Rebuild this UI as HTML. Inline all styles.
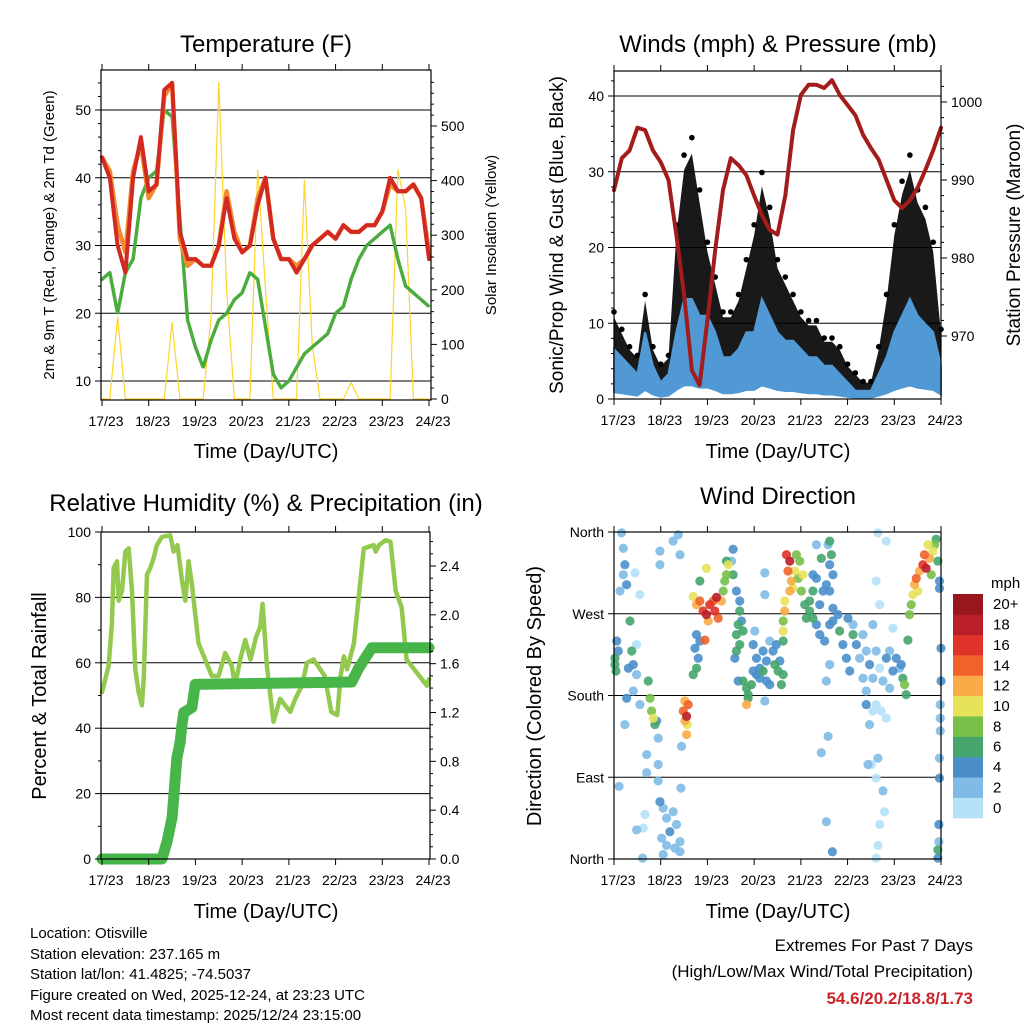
<!DOCTYPE html>
<html><head><meta charset="utf-8"><style>
html,body{margin:0;padding:0;background:#fff;}
svg{display:block;font-family:"Liberation Sans",sans-serif;}
</style></head><body>
<svg id="chart" width="1024" height="1024" viewBox="0 0 1024 1024" xmlns="http://www.w3.org/2000/svg">
<rect width="1024" height="1024" fill="#fff"/>
<text x="266" y="52" font-size="24" text-anchor="middle">Temperature (F)</text>
<text x="778" y="52" font-size="24" text-anchor="middle">Winds (mph) &amp; Pressure (mb)</text>
<text x="266" y="511" font-size="24" text-anchor="middle">Relative Humidity (%) &amp; Precipitation (in)</text>
<text x="778" y="504" font-size="24" text-anchor="middle">Wind Direction</text>
<text x="266" y="458" font-size="20" text-anchor="middle">Time (Day/UTC)</text>
<text x="778" y="458" font-size="20" text-anchor="middle">Time (Day/UTC)</text>
<text x="266" y="918" font-size="20" text-anchor="middle">Time (Day/UTC)</text>
<text x="778" y="918" font-size="20" text-anchor="middle">Time (Day/UTC)</text>
<text transform="translate(54,235) rotate(-90)" font-size="15" text-anchor="middle">2m &amp; 9m T (Red, Orange) &amp; 2m Td (Green)</text>
<text transform="translate(496,235) rotate(-90)" font-size="15" text-anchor="middle">Solar Insolation (Yellow)</text>
<text transform="translate(563,235) rotate(-90)" font-size="19" text-anchor="middle">Sonic/Prop Wind &amp; Gust (Blue, Black)</text>
<text transform="translate(1020,235) rotate(-90)" font-size="19" text-anchor="middle">Station Pressure (Maroon)</text>
<text transform="translate(46,696) rotate(-90)" font-size="20" text-anchor="middle">Percent &amp; Total Rainfall</text>
<text transform="translate(541,696) rotate(-90)" font-size="20" text-anchor="middle">Direction (Colored By Speed)</text>
<g font-size="15">
<text x="30" y="938">Location: Otisville</text>
<text x="30" y="959">Station elevation: 237.165 m</text>
<text x="30" y="979">Station lat/lon: 41.4825; -74.5037</text>
<text x="30" y="1000">Figure created on Wed, 2025-12-24, at 23:23 UTC</text>
<text x="30" y="1020">Most recent data timestamp: 2025/12/24 23:15:00</text>
</g>
<text x="973" y="951" font-size="17" text-anchor="end">Extremes For Past 7 Days</text>
<text x="973" y="977" font-size="17" text-anchor="end">(High/Low/Max Wind/Total Precipitation)</text>
<text x="973" y="1004" font-size="17" font-weight="bold" fill="#c8262d" text-anchor="end">54.6/20.2/18.8/1.73</text>
<text x="991" y="588" font-size="15">mph</text>
</svg>
<script>
// ---------- data ----------
const dayLabels = ["17/23","18/23","19/23","20/23","21/23","22/23","23/23","24/23"];
const tempHours = [0,4,8,12,16,20,24,28,32,36,40,44,48,52,56,60,64,68,72,76,80,84,88,92,96,100,104,108,112,116,120,124,128,132,136,140,144,148,152,156,160,164,168];
const temp2m = [43,40,30,26,40,46,38,39,53,54,32,28,28,27,27,30,37,31,29,30,36,40,31,28,28,26,28,30,31,32,31,33,32,32,33,33,35,40,38,38,39,37,28];
const temp9m = [43,41,33,29,41,45,37,39,52,54,31,27,28,27,27,30,38,32,29,30,37,40,31,28,28,27,28,30,31,32,31,33,32,32,33,33,35,39,38,38,39,37,29];
const dewpoint = [25,26,20,26,28,37,40,41,50,49,34,19,15,12,16,19,20,22,23,26,25,18,11,9,10,12,14,15,16,17,20,21,25,28,30,31,32,33,28,24,23,22,21];
const solar = [0,0,150,0,0,0,0,0,0,140,0,0,0,0,150,580,200,0,0,0,420,200,0,0,0,0,400,100,0,0,0,0,30,0,0,0,0,0,420,350,0,0,0];
const tempTicks = [10,20,30,40,50];
const solarTicks = [0,100,200,300,400,500];

const windHours = tempHours;
const windSpeed = [6,5,4,3,8,4,2,3,8,12,12,10,10,8,5,5,6,8,8,12,10,8,7,7,6,5,5,4,4,3,2,1,1,1,3,5,8,10,12,10,9,8,4];
const windGust = [10,8,6,5,12,6,4,5,20,28,30,24,18,14,10,10,12,16,20,26,22,16,14,12,10,9,9,7,7,6,4,3,2,2,6,12,20,25,28,24,22,18,8];
const pressure = [988.7,992.8,993.8,996.7,996.4,993.8,992.3,990,983,975.3,965.6,963.7,972,981,988.7,992.8,991.9,990.6,988,985.5,983.6,983,988,996.4,1000.9,1002.2,1002.2,1001.8,1002.8,1000.9,999.6,998.3,995.8,994.1,992.6,990,987.4,986.4,987.4,989,991.3,993.8,996.7];
const windTicks = [0,10,20,30,40];
const pressureTicks = [970,980,990,1000];

const rhHours = [0,3.4,5.1,6,7.7,8.6,10.3,12,13.7,15.4,17.1,18.8,20.5,21.4,23.1,24.8,26.5,28.2,30.8,35.1,36.8,38.8,41.1,42.8,44.5,46.2,49.6,56.4,59.9,63.3,66.7,68.4,71,73.6,76.3,79.2,81.3,82.5,84.7,88.1,91.5,96.7,99.3,102.7,105.3,108.7,114.4,117.8,120.9,122.6,124.3,125.9,129.4,134.5,139.6,140.6,142.3,145.7,148.2,150.9,153.9,156.5,166.9,168];
const rhValues = [51,59,72,89,91,79,82,94,95,82,58,51,47,55,87,89,92,96,98.5,99,94,96,85,79,91,84,66,56,56,63,59,53,61,67,61,68,71,78,59,42,49,45,49,53,60,61,56,45,44,56,62,58,66,95,96,94,96,97.5,97,82,77,61,53,55];
const precipHours = [0,30.8,33.4,36,38.5,40.2,41.1,42,46.2,47.9,128.3,131.8,138.6,168];
const precipValues = [0,0,0.14,0.34,0.83,0.96,1.1,1.2,1.24,1.43,1.45,1.56,1.73,1.73];
const rhTicks = [0,20,40,60,80,100];
const precipTicks = [0,0.4,0.8,1.2,1.6,2.0,2.4];

const dirLabels = ["North","East","South","West","North"];
const dirTicks = [0,90,180,270,360];
const speedBins = ["0","2","4","6","8","10","12","14","16","18","20+"];
const speedColors = ["#b5e1f7","#7fbbe5","#4a8fca","#45a56c","#78c04a","#e6e25a","#f8ab47","#f0622a","#df3228","#bb1e28","#98161c"];
// [hour, direction deg, speed mph]
const dirObs = [
[3.9,359,2],[4.8,342,3],[5.6,324,4],[4.8,313,3],[3.1,295,2],[6.5,302,4],[1.4,240,4],[0.5,214,6],[0.5,221,6],[1,207,6],[2.2,229,4],[8.2,262,6],[9.1,229,6],[9.9,214,4],[7.4,210,4],[11.6,203,2],[9.9,185,3],[6.5,177,4],[5.6,148,2],[13.3,170,2],[11.6,236,1],[13.3,291,1],[10.8,315,1],
[17.6,196,7],[18.5,177,8],[19.3,163,8],[20.2,155,10],[21,148,6],[21.9,152,5],[22.7,133,3],
[16.8,115,3],[16.8,95,3],[22.7,104,3],[22.7,86,3],[23.6,63,4],[25.3,56,3],[27,45,3],[28.7,30,4],[30.4,52,3],[32.1,38,3],[27,15,3],[31.3,12,3],[24.5,23,2],[33.9,19,2],[15.9,49,1],[15,34,1],[33.9,8,3],[25.3,5,3],
[23.6,339,2],[30.4,350,3],[33,357,2],[33.9,335,2],[23.6,324,3],
[36.4,174,13],[38.1,170,15],[35.6,163,14],[37.3,157,18],[36.4,152,12],[37.6,148,10],[37.3,137,12],[34.7,124,2],[34.4,78,3],
[40.7,289,10],[42.4,280,12],[44.1,284,14],[45.8,273,16],[47.5,269,18],[49.2,280,17],[51,284,15],[52.7,288,19],[51.8,273,16],[53.5,265,15],[55.2,284,12],[56.1,295,9],[56.9,306,8],[57.8,313,9],[58.7,324,10],[57.8,328,7],[44.1,306,7],[47.5,320,10],[48.4,262,13],[46.7,241,15],[42.4,247,5],[41.6,232,4],[43.3,221,5],[42.4,210,6],[40.7,203,6],[44.1,240,4],
[61.2,341,4],[60.4,328,3],[61.2,313,6],[62.9,295,4],[64.6,284,4],[64.6,273,6],[63.8,258,7],[62.9,247,7],[64.6,236,6],[62.9,229,6],[62.1,221,4],[65.5,262,5],[66.3,251,7],[63.8,196,5],[66.3,196,7],[68.1,188,7],[68.9,181,7],[68.1,170,12],[68.9,177,6],
[71.5,236,4],[73.2,221,4],[74.9,210,5],[76.6,229,4],[78.3,218,4],[80,240,3],[81.7,229,5],[83.4,236,4],[85.2,218,4],[86.9,203,6],[86,192,7],[74.9,199,4],[76.6,207,6],[73.2,203,5],[78.3,196,4],[80,192,4],[71.5,207,5],[70.6,192,6],[82.6,214,6],[84.3,207,6],[86.9,240,7],[72.3,251,3],[77.5,291,2],[77.5,174,3],[77.5,315,2],
[88.6,335,16],[90.3,328,18],[89.4,317,14],[91.1,306,12],[92,298,11],[90.3,295,12],[87.7,284,11],[87.7,273,12],[86.9,251,10],[93.7,335,8],[95.4,328,9],[97.1,313,10],[96.3,295,8],[98,280,6],[92.9,317,10],[94.6,309,9],[86.9,262,8],
[100.5,273,6],[102.2,265,6],[104,258,5],[105.7,280,4],[107.4,295,4],[109.1,302,4],[110.8,295,4],[105.7,247,4],[108.2,240,4],[110.8,258,4],[112.5,276,5],[112.5,262,4],[115.1,269,5],[104,309,4],[110.8,324,4],[112.5,313,4],[110.8,350,6],[111.7,335,6],[110,346,2],[104,346,3],[110.8,214,2],[109.1,196,2],[102.2,295,6],[100.5,284,7],[98.8,265,6],[106.5,331,7],[102.2,313,4],
[115.9,251,6],[117.6,236,4],[119.4,221,4],[121.1,207,4],[122.8,247,6],[124.5,236,4],[126.2,221,3],[127.9,247,2],[129.6,229,2],[131.3,214,4],[133,199,2],[127.9,199,2],[129.6,185,2],[134.7,229,2],[136.5,210,1],[138.2,196,2],[139.9,221,4],[141.6,229,2],[133,258,3],[122.8,258,3],[120.2,265,4],
[129.6,170,4],[131.3,148,3],[133,163,1],[134.7,170,1],[137.3,163,1],[139.9,155,1],[135.6,111,2],[134.7,89,1],[138.2,75,3],[139,52,1],[136.5,38,1],[135.6,15,1],[134.7,1,1],[130.5,104,3],[132.2,104,1],[134.7,306,1],[136.5,280,1],[139.9,350,1],[135.6,359,1],[106.5,117,3],[109.1,41,3],[112.2,8,4],[110,135,3],[141.6,188,2],[143.3,207,4],[145,221,4],[146.7,210,3],[143.3,254,1],
[147.6,214,5],[148.4,199,7],[149.3,192,8],[150.1,181,7],[151,241,6],
[151.8,269,8],[152.7,280,9],[153.6,291,10],[154.4,302,12],[155.3,309,14],[157,317,13],[158.7,324,16],[160.4,320,18],[159.5,335,14],[162.1,331,12],[163.8,339,11],[164.7,346,9],[165.5,352,7],[166.4,328,6],[161.3,346,10],[156.1,295,10],[163,313,9],[167.2,306,4],[167.2,298,4],
[168,232,4],[168,196,4],[167.6,170,3],[167.6,155,3],[167.6,141,3],[167.2,89,4],[166.9,38,4],[166.9,19,3],[166.4,10,6],[166.4,1,4],[167.2,111,2],[2.6,80,3],[11.6,32,2],[14.7,1,2]
];

// ---------- helpers ----------
const NS = "http://www.w3.org/2000/svg";
const svg = document.getElementById('chart');
function mk(tag, attrs, parent) {
  const e = document.createElementNS(NS, tag);
  for (const k in attrs) e.setAttribute(k, attrs[k]);
  (parent || svg).appendChild(e);
  return e;
}
function lin(d0, d1, r0, r1) { return v => r0 + (v - d0) * (r1 - r0) / (d1 - d0); }

const P1 = {x0:101,x1:431,y0:70,y1:400};
const P2 = {x0:614,x1:941,y0:71,y1:399};
const P3 = {x0:101,x1:430,y0:532,y1:859};
const P4 = {x0:614,x1:941,y0:532,y1:859};

const x1s = lin(0,168,102,429);
const x2s = lin(0,168,614,941);
const yTemp = lin(10,50,381,110);
const ySolar = lin(0,500,399,126);
const yWind = lin(0,40,399,96);
const yPres = lin(970,1000,336,102);
const yRH = lin(0,100,859,532);
const yPre = lin(0,2.4,859,566);
const yDir = lin(0,360,859,532);

function grid(P, ys, ticks, name) {
  const g = mk('g', {});
  
  
  ticks.forEach(t => {
    const y = ys(t);
    if (y > P.y0 + 1 && y < P.y1 - 1) {
      const l = mk('line', {x1:P.x0,x2:P.x1,y1:y,y2:y,stroke:'#000','stroke-width':1}, g);
      
      
    }
  });
}
function frame(P, xs, name) {
  const r = mk('rect', {x:P.x0,y:P.y0,width:P.x1-P.x0,height:P.y1-P.y0,fill:'none',stroke:'#000','stroke-width':1.2});
  
  
  dayLabels.forEach((lab, i) => {
    const x = xs(i * 24);
    const tk = mk('line', {x1:x,x2:x,y1:P.y1,y2:P.y1+6,stroke:'#000'});
    
    
    const tk2 = mk('line', {x1:x,x2:x,y1:P.y0,y2:P.y0-6,stroke:'#000'});
    
    
    const t = mk('text', {x:x+4,y:P.y1+26,'font-size':14,'text-anchor':'middle'});
    t.textContent = lab;
    
    
  });
}
function yAxis(P, ys, ticks, labels, side, name, minor) {
  const g = mk('g', {'font-size':14});
  
  
  const xe = side === 'left' ? P.x0 : P.x1;
  const dir = side === 'left' ? -1 : 1;
  ticks.forEach((t, i) => {
    const y = ys(t);
    const l = mk('line', {x1:xe,x2:xe+dir*6,y1:y,y2:y,stroke:'#000'}, g);
    
    
    const tx = mk('text', {x:xe+dir*10,y:y+5,'text-anchor':side==='left'?'end':'start'}, g);
    tx.textContent = labels[i];
    
    
    if (minor) {
      const step = (ticks[1] - ticks[0]) / minor;
      for (let k = 1; k < minor; k++) {
        const ym = ys(t + k * step);
        if (ym > P.y0 && ym < P.y1) {
          const m = mk('line', {x1:xe,x2:xe+dir*3,y1:ym,y2:ym,stroke:'#000'}, g);
          
          
        }
      }
    }
  });
}
function path(xs, ys, X, Y, attrs, name) {
  let d = '';
  X.forEach((h, i) => { d += (i ? 'L' : 'M') + xs(h).toFixed(1) + ',' + ys(Y[i]).toFixed(1); });
  const p = mk('path', Object.assign({d:d,fill:'none','stroke-linejoin':'round','stroke-linecap':'round'}, attrs));
  
  
  return p;
}

// ---------- panel 1: temperature ----------
grid(P1, yTemp, tempTicks, 'temp-gridlines');
path(x1s, ySolar, tempHours, solar, {stroke:'#ffd42a','stroke-width':1.2}, 'solar-line');
path(x1s, yTemp, tempHours, dewpoint, {stroke:'#4aac3c','stroke-width':3.5,'stroke-dasharray':'2 1.5'}, 'dewpoint-line');
path(x1s, yTemp, tempHours, temp9m, {stroke:'#f28b30','stroke-width':4.5}, 'temp-9m-line');
path(x1s, yTemp, tempHours, temp2m, {stroke:'#d22a22','stroke-width':4}, 'temp-2m-line');
frame(P1, x1s, 'temp-plot-frame');
yAxis(P1, yTemp, tempTicks, tempTicks.map(String), 'left', 'temp-y-axis', 5);
yAxis(P1, ySolar, solarTicks, solarTicks.map(String), 'right', 'solar-y-axis', 5);

// ---------- panel 2: winds ----------
grid(P2, yWind, windTicks, 'wind-gridlines');
(function(){
  let up = '', lo = '';
  windHours.forEach((h, i) => { up += (i ? 'L' : 'M') + x2s(h).toFixed(1) + ',' + yWind(windGust[i] * 1.08).toFixed(1); });
  for (let i = windHours.length - 1; i >= 0; i--) lo += 'L' + x2s(windHours[i]).toFixed(1) + ',' + yWind(windSpeed[i] * 0.6).toFixed(1);
  const a = mk('path', {d:up + lo + 'Z', fill:'#000', opacity:0.9});
  
  
  windHours.forEach((h, i) => {
    const c = mk('circle', {cx:x2s(h), cy:yWind(windGust[i] * 1.15), r:2.8, fill:'#000'});
    
    
  });
  let bu = '', bl = '';
  windHours.forEach((h, i) => { bu += (i ? 'L' : 'M') + x2s(h).toFixed(1) + ',' + yWind(windSpeed[i] * 1.1).toFixed(1); });
  for (let i = windHours.length - 1; i >= 0; i--) bl += 'L' + x2s(windHours[i]).toFixed(1) + ',' + yWind(windSpeed[i] * 0.15).toFixed(1);
  const b = mk('path', {d:bu + bl + 'Z', fill:'#5199d4', stroke:'#5199d4', 'stroke-width':2});
  
  
})();
path(x2s, yPres, windHours, pressure, {stroke:'#a31c1c','stroke-width':4}, 'pressure-line');
frame(P2, x2s, 'wind-plot-frame');
yAxis(P2, yWind, windTicks, windTicks.map(String), 'left', 'wind-y-axis', 5);
yAxis(P2, yPres, pressureTicks, pressureTicks.map(String), 'right', 'pressure-y-axis', 5);

// ---------- panel 3: humidity & precip ----------
grid(P3, yRH, rhTicks, 'rh-gridlines');
path(x1s, yRH, rhHours, rhValues, {stroke:'#93c94f','stroke-width':4.5}, 'rh-line');
path(x1s, yPre, precipHours, precipValues, {stroke:'#47b54a','stroke-width':11}, 'precip-line');
frame(P3, x1s, 'rh-plot-frame');
yAxis(P3, yRH, rhTicks, rhTicks.map(String), 'left', 'rh-y-axis', 2);
yAxis(P3, yPre, precipTicks, precipTicks.map(v => v.toFixed(1)), 'right', 'precip-y-axis', 4);

// ---------- panel 4: wind direction ----------
grid(P4, yDir, dirTicks, 'dir-gridlines');
function speedColor(s) { let i = Math.floor(s / 2); if (i > 10) i = 10; if (i < 0) i = 0; return speedColors[i]; }
const sorted = dirObs.slice().sort((a, b) => a[2] - b[2]);
sorted.forEach(o => {
  const c = mk('circle', {cx:x2s(o[0]), cy:yDir(o[1]), r:4.6, fill:speedColor(o[2]), opacity:0.9});
  
  
});
frame(P4, x2s, 'dir-plot-frame');
yAxis(P4, yDir, dirTicks, dirLabels, 'left', 'dir-y-axis', 0);

// colorbar
(function(){
  const g = mk('g', {'font-size':15});
  
  
  const top = 594, bot = 818, h = (bot - top) / speedBins.length;
  speedBins.forEach((lab, i) => {
    const y = bot - (i + 1) * h;
    const r = mk('rect', {x:953,y:y,width:30,height:h+0.3,fill:speedColors[i]}, g);
    
    
    const t = mk('text', {x:993,y:y+h/2+5}, g);
    t.textContent = lab;
    
    
  });
})();
</script>
</body></html>
